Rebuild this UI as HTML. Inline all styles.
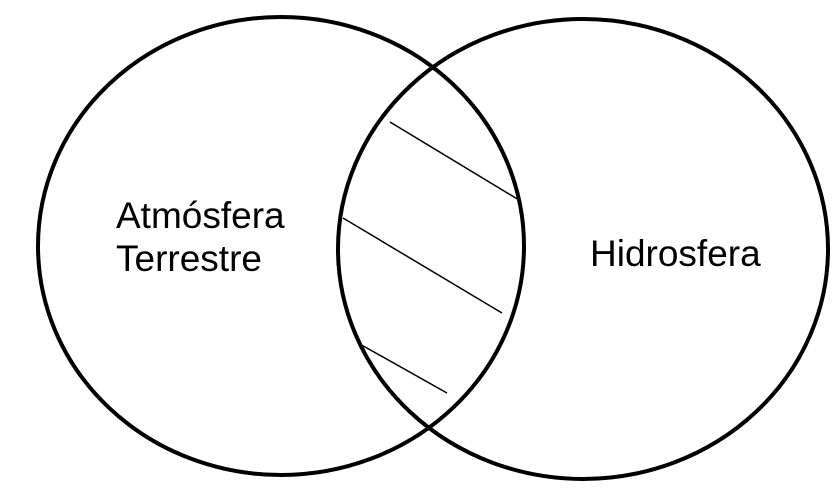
<!DOCTYPE html>
<html><head><style>html,body{margin:0;padding:0;background:#fff;}</style></head>
<body>
<svg width="839" height="493" viewBox="0 0 839 493" xmlns="http://www.w3.org/2000/svg">
<rect width="839" height="493" fill="#fff"/>
<ellipse cx="281" cy="246" rx="243" ry="229" fill="none" stroke="#000" stroke-width="4"/>
<ellipse cx="583" cy="249" rx="245" ry="230" fill="none" stroke="#000" stroke-width="4"/>
<line x1="390" y1="122" x2="519" y2="200" stroke="#000" stroke-width="1.5"/>
<line x1="343" y1="218" x2="502" y2="313" stroke="#000" stroke-width="1.5"/>
<line x1="358" y1="343" x2="447" y2="393" stroke="#000" stroke-width="1.5"/>
<g font-family="Liberation Sans, sans-serif" font-size="37" fill="#000">
<text x="116" y="228">Atmósfera</text>
<text x="116" y="271">Terrestre</text>
<text x="590" y="266">Hidrosfera</text>
</g>
</svg>
</body></html>
